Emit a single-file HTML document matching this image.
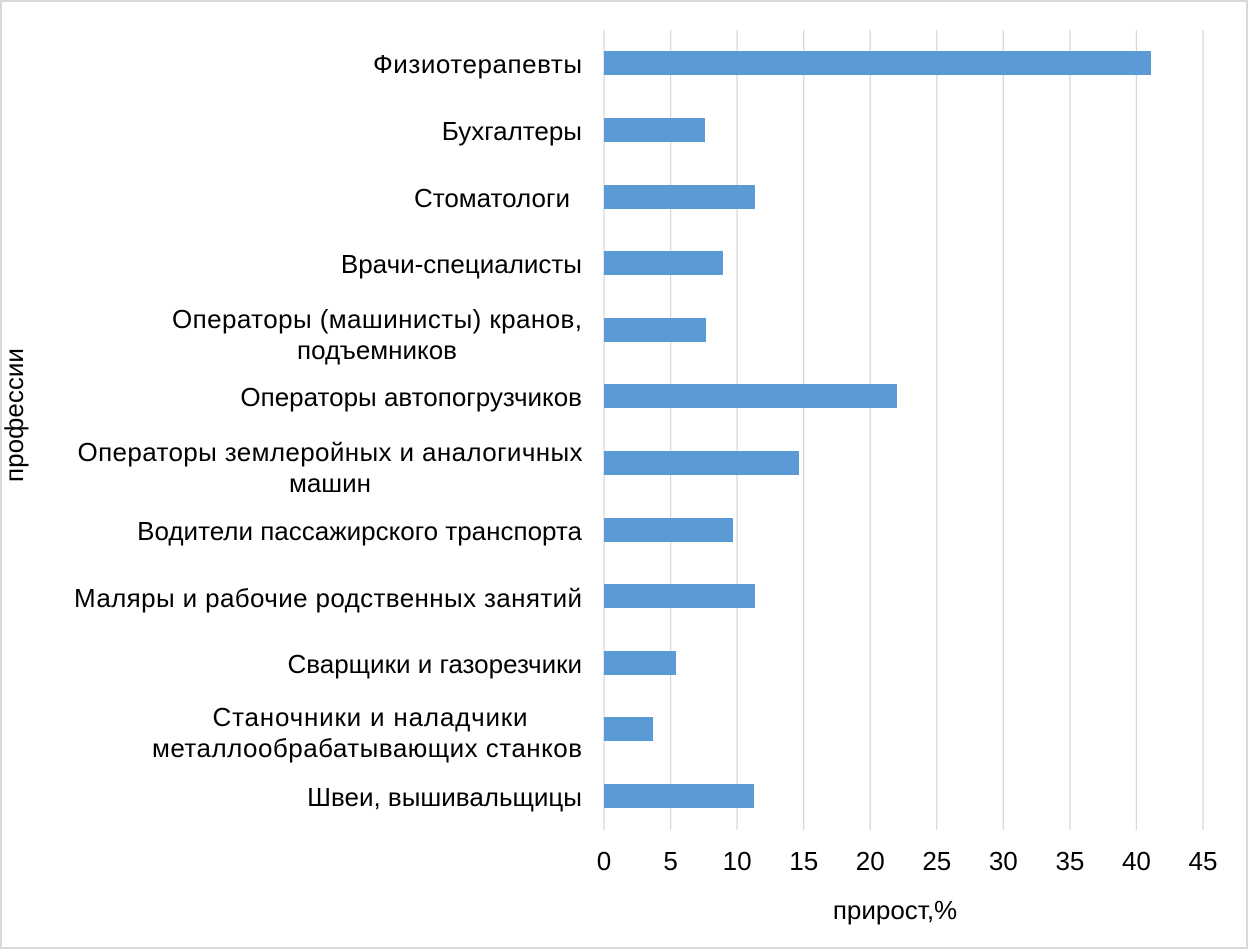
<!DOCTYPE html>
<html><head><meta charset="utf-8"><style>
html,body{margin:0;padding:0;background:#fff}
svg{display:block}
text{font-family:"Liberation Sans",Arial,sans-serif;fill:#000}
</style></head><body>
<svg width="1249" height="950" viewBox="0 0 1249 950">
<rect x="1" y="1" width="1246" height="947" fill="#fff" stroke="#d9d9d9" stroke-width="2"/>
<g stroke="#d9d9d9" stroke-width="1.3">
<line x1="604" y1="30" x2="604" y2="830"/>
<line x1="670.6" y1="30" x2="670.6" y2="830"/>
<line x1="737.1" y1="30" x2="737.1" y2="830"/>
<line x1="803.7" y1="30" x2="803.7" y2="830"/>
<line x1="870.2" y1="30" x2="870.2" y2="830"/>
<line x1="936.8" y1="30" x2="936.8" y2="830"/>
<line x1="1003.3" y1="30" x2="1003.3" y2="830"/>
<line x1="1069.9" y1="30" x2="1069.9" y2="830"/>
<line x1="1136.4" y1="30" x2="1136.4" y2="830"/>
<line x1="1203" y1="30" x2="1203" y2="830"/>
</g>
<g fill="#5b9bd5">
<rect x="604" y="51" width="547" height="24"/>
<rect x="604" y="118" width="101" height="24"/>
<rect x="604" y="185" width="151" height="24"/>
<rect x="604" y="251" width="119" height="24"/>
<rect x="604" y="318" width="102" height="24"/>
<rect x="604" y="384" width="293" height="24"/>
<rect x="604" y="451" width="195" height="24"/>
<rect x="604" y="518" width="129" height="24"/>
<rect x="604" y="584" width="151" height="24"/>
<rect x="604" y="651" width="72" height="24"/>
<rect x="604" y="717" width="49" height="24"/>
<rect x="604" y="784" width="150" height="24"/>
</g>
<g font-size="26" text-anchor="end">
<text x="582" y="73" textLength="209">Физиотерапевты</text>
<text x="582" y="140">Бухгалтеры</text>
<text x="570" y="207">Стоматологи</text>
<text x="582" y="273">Врачи-специалисты</text>
<text x="582" y="406">Операторы автопогрузчиков</text>
<text x="582" y="540">Водители пассажирского транспорта</text>
<text x="582" y="607" textLength="508">Маляры и рабочие родственных занятий</text>
<text x="582" y="673">Сварщики и газорезчики</text>
<text x="582" y="806">Швеи, вышивальщицы</text>
</g>
<g font-size="26" text-anchor="middle">
<text x="377" y="328" textLength="410">Операторы (машинисты) кранов,</text>
<text x="377" y="359">подъемников</text>
<text x="330" y="461" textLength="505">Операторы землеройных и аналогичных</text>
<text x="330" y="492">машин</text>
<text x="370" y="726" textLength="315">Станочники и наладчики</text>
<text x="367" y="757" textLength="430">металлообрабатывающих станков</text>
</g>
<g font-size="26" text-anchor="middle">
<text x="604" y="870">0</text>
<text x="670.6" y="870">5</text>
<text x="737.1" y="870">10</text>
<text x="803.7" y="870">15</text>
<text x="870.2" y="870">20</text>
<text x="936.8" y="870">25</text>
<text x="1003.3" y="870">30</text>
<text x="1069.9" y="870">35</text>
<text x="1136.4" y="870">40</text>
<text x="1203" y="870">45</text>
<text x="895" y="919" font-size="26">прирост,%</text>
<text transform="translate(23,415) rotate(-90)" font-size="26">профессии</text>
</g>
</svg>
</body></html>
